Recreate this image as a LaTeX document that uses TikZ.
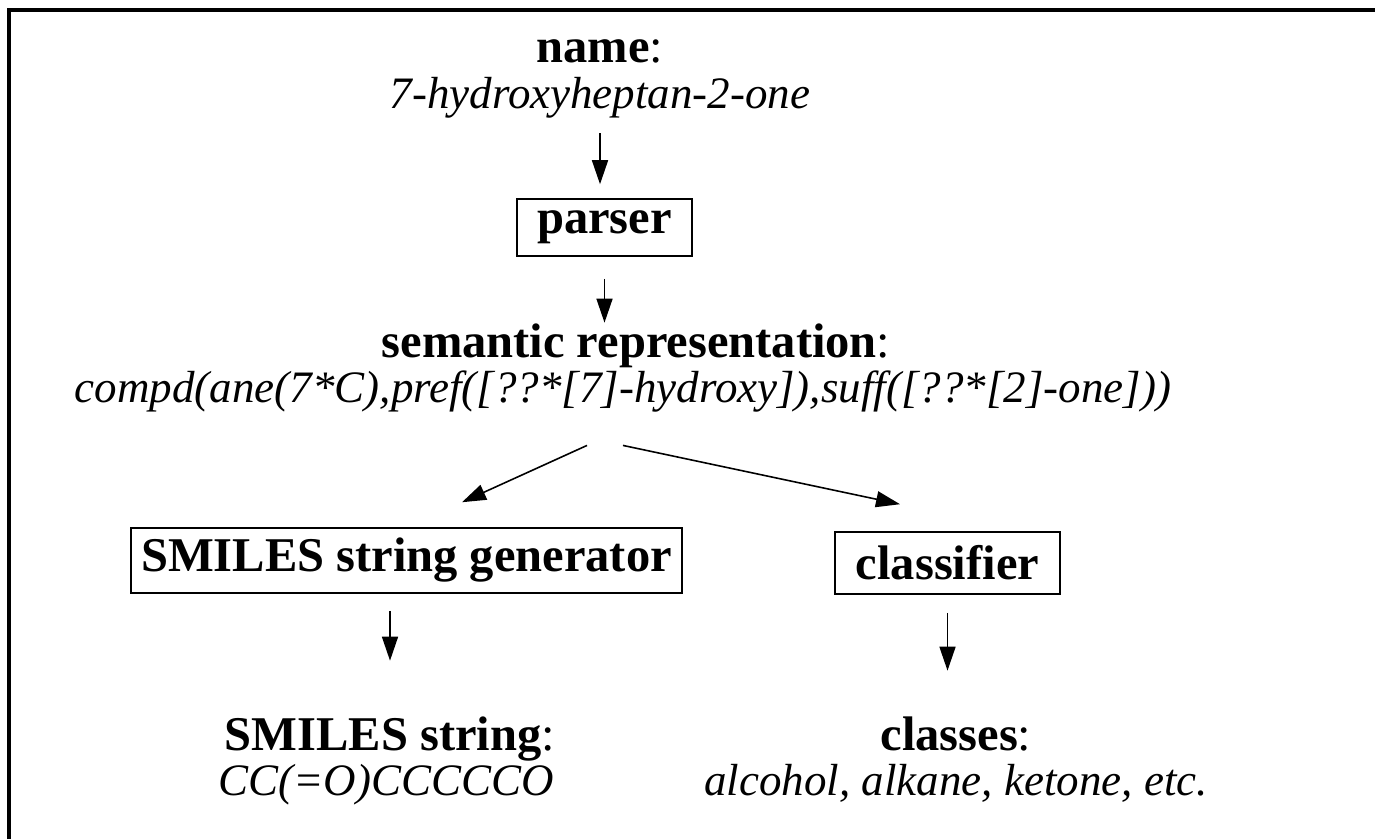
\documentclass[tikz,border=0pt]{standalone}
\usepackage{fontspec}
\setmainfont{Liberation Serif}
\usetikzlibrary{arrows.meta}

\tikzset{
	box/.style  = {draw, line width=0.45pt, inner sep=0pt, font=\bfseries\fontsize{13.8}{15}\selectfont},
	head/.style = {anchor=base, inner sep=0pt, font=\fontsize{13.8}{15}\selectfont},
	val/.style  = {anchor=base, inner sep=0pt, font=\itshape\fontsize{12.8}{14}\selectfont},
	arr/.style  = {-{Triangle[length=2.4mm,width=1.6mm]}, line width=0.45pt},
}

\begin{document}
\begin{tikzpicture}
	\useasboundingbox (0,0) rectangle (13.75,-8.39);
	% Frame
	\draw[line width=0.9pt] (0.09,-8.39) -- (0.09,-0.10) -- (13.75,-0.10);

	% Nodes
	\node[head] (nameH) at (6.00,-0.62) {\textbf{name}:};
	\node[val]  (nameV) at (6.00,-1.08) {7-hydroxyheptan-2-one};
	\node[box, minimum width=1.75cm, minimum height=0.57cm] (parser) at (6.045,-2.275) {parser};
	\node[head] (semH) at (6.36,-3.57) {\textbf{semantic representation}:};
	\node[val]  (semV) at (6.23,-4.02) {compd(ane(7*C),pref([??*[7]-hydroxy]),suff([??*[2]-one]))};
	\node[box, minimum width=5.51cm, minimum height=0.65cm] (gen) at (4.065,-5.605) {SMILES string generator};
	\node[box, minimum width=2.25cm, minimum height=0.62cm] (cls) at (9.475,-5.63) {classifier};
	\node[head] (smiH) at (3.90,-7.50) {\textbf{SMILES string}:};
	\node[val]  (smiV) at (3.86,-7.95) {CC(=O)CCCCCO};
	\node[head] (clsH) at (9.56,-7.50) {\textbf{classes}:};
	\node[val]  (clsV) at (9.56,-7.95) {alcohol, alkane, ketone, etc.};

	% Arrows
	\draw[arr, shorten <=0.15cm, shorten >=0.14cm] (nameV.south) -- (nameV.south |- parser.north);
	\draw[arr, shorten <=0.22cm] (parser.south) -- (parser.south |- semH.north);
	\draw[arr] ([xshift=-0.36cm,yshift=-0.33cm]semV.south) -- ([xshift=0.555cm,yshift=0.25cm]gen.north);
	\draw[arr] ([xshift=0.00cm,yshift=-0.33cm]semV.south) -- ([xshift=-0.475cm,yshift=0.27cm]cls.north);
	\draw[arr, shorten <=0.17cm, shorten >=0.55cm] (gen.south -| smiH.north) -- (smiH.north);
	\draw[arr, shorten <=0.18cm, shorten >=0.45cm] (cls.south) -- (cls.south |- clsH.north);
\end{tikzpicture}
\end{document}
